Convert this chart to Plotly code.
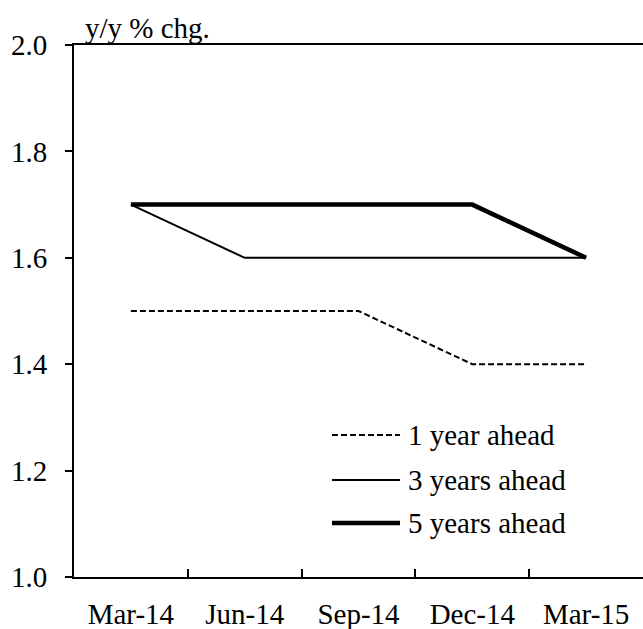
import plotly.graph_objects as go

categories = ["Mar-14", "Jun-14", "Sep-14", "Dec-14", "Mar-15"]
one_year = [1.5, 1.5, 1.5, 1.4, 1.4]
three_years = [1.7, 1.6, 1.6, 1.6, 1.6]
five_years = [1.7, 1.7, 1.7, 1.7, 1.6]
series_names = ["1 year ahead", "3 years ahead", "5 years ahead"]
y_ticks = [1.0, 1.2, 1.4, 1.6, 1.8, 2.0]
y_title = "y/y % chg."

FONT = "Liberation Serif"
FS = 29

styles = [
    dict(color="black", width=2, dash="6px,3px"),
    dict(color="black", width=2, dash="solid"),
    dict(color="black", width=4.5, dash="solid"),
]

fig = go.Figure()
for name, vals, st in zip(series_names, [one_year, three_years, five_years], styles):
    fig.add_trace(go.Scatter(x=categories, y=vals, mode="lines", name=name,
                             line=st, showlegend=False, hoverinfo="skip"))

# manual legend (paper coords inside plot)
leg_rows = [0.2669, 0.1823, 0.1015]
for name, st, yy in zip(series_names, styles, leg_rows):
    fig.add_shape(type="line", xref="paper", yref="paper",
                  x0=0.4534, x1=0.573, y0=yy, y1=yy, line=st)
    fig.add_annotation(xref="paper", yref="paper", x=0.584, y=yy,
                       xanchor="left", yanchor="middle", text=name,
                       showarrow=False, font=dict(family=FONT, size=FS, color="black"))

fig.add_annotation(xref="paper", yref="paper", x=0.0160, y=1.0,
                   xanchor="left", yanchor="bottom", yshift=-1, text=y_title,
                   showarrow=False, font=dict(family=FONT, size=FS, color="black"))

fig.update_layout(
    width=643, height=629,
    margin=dict(l=74, r=0, t=45, b=52, autoexpand=False),
    paper_bgcolor="white", plot_bgcolor="white",
    font=dict(family=FONT, size=FS, color="black"),
    showlegend=False,
)
fig.update_xaxes(type="category", range=[-0.5, 4.5], tickson="boundaries",
                 ticks="inside", ticklen=8, tickwidth=2, tickcolor="black",
                 showline=True, linewidth=2, linecolor="black", mirror=True,
                 showgrid=False, zeroline=False, ticklabelstandoff=10,
                 automargin=False,
                 tickfont=dict(family=FONT, size=FS, color="black"))
fig.update_yaxes(range=[1.0, 2.0], tickvals=y_ticks, tickformat=".1f",
                 ticks="outside", ticklen=7, tickwidth=2, tickcolor="black",
                 showline=True, linewidth=2, linecolor="black", mirror=False,
                 showgrid=False, zeroline=False, ticklabelstandoff=12,
                 automargin=False,
                 tickfont=dict(family=FONT, size=FS, color="black"))

fig.write_html("out.html",
               config={"displayModeBar": False, "staticPlot": True},
               post_script="document.body.style.margin='0';document.body.style.overflow='hidden';")
